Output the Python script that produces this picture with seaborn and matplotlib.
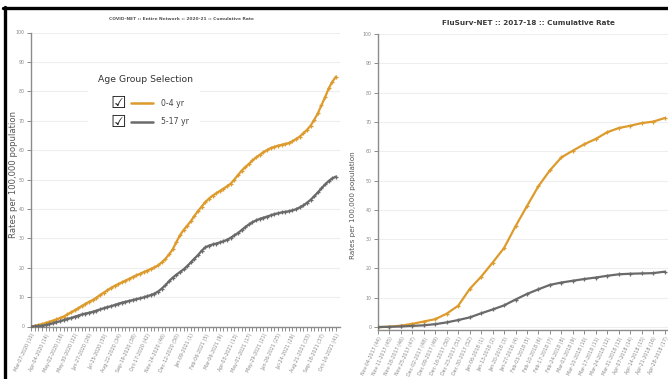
import numpy as np
import pandas as pd
import matplotlib
matplotlib.use("Agg")
import matplotlib.pyplot as plt
from matplotlib.lines import Line2D
from matplotlib.patches import Rectangle
import seaborn as sns

# ---------------------------------------------------------------------------
# Data
# ---------------------------------------------------------------------------
# COVID-NET 2020-21, weekly from Mar-07-2020 (wk 10) to Oct-16-2021 (wk 41)
covid_0_4 = [0.0, 0.2, 0.5, 0.8, 1.2, 1.6, 2.0, 2.4, 2.9, 3.4,
             4.1, 4.8, 5.5, 6.2, 7.0, 7.7, 8.4, 9.0, 9.8, 10.7,
             11.5, 12.3, 13.1, 13.8, 14.4, 15.0, 15.6, 16.2, 16.8, 17.4,
             17.9, 18.5, 19.0, 19.6, 20.1, 20.8, 21.8, 23.0, 24.5, 26.2,
             28.6, 31.0, 32.8, 34.3, 35.8, 37.6, 39.3, 40.8, 42.3, 43.5,
             44.5, 45.3, 46.1, 46.9, 47.7, 48.6, 50.0, 51.5, 53.0, 54.2,
             55.3, 56.5, 57.5, 58.4, 59.3, 60.0, 60.7, 61.1, 61.5, 61.8,
             62.1, 62.4, 63.0, 63.8, 64.6, 65.7, 66.9, 68.3, 70.3, 72.5,
             75.3, 78.0, 81.0, 83.3, 85.0]
covid_5_17 = [0.0, 0.1, 0.2, 0.3, 0.5, 0.8, 1.1, 1.5, 1.8, 2.2,
              2.6, 2.9, 3.3, 3.7, 4.1, 4.4, 4.7, 5.0, 5.4, 5.8,
              6.2, 6.6, 6.9, 7.3, 7.7, 8.1, 8.4, 8.7, 9.0, 9.3,
              9.6, 9.9, 10.3, 10.7, 11.2, 11.9, 12.9, 14.0, 15.4, 16.6,
              17.6, 18.5, 19.4, 20.5, 21.8, 23.1, 24.3, 25.8, 26.9, 27.5,
              27.9, 28.2, 28.6, 29.0, 29.5, 30.2, 31.0, 31.8, 32.8, 33.8,
              34.7, 35.5, 36.1, 36.6, 37.0, 37.4, 37.8, 38.2, 38.5, 38.8,
              39.0, 39.2, 39.5, 39.9, 40.5, 41.2, 42.1, 43.1, 44.3, 45.6,
              47.0, 48.3, 49.5, 50.4, 51.0]
covid_ticklabels = ["Mar-07-2020 (10)", "Apr-04-2020 (14)", "May-02-2020 (18)",
                    "May-30-2020 (22)", "Jun-27-2020 (26)", "Jul-25-2020 (30)",
                    "Aug-22-2020 (34)", "Sep-19-2020 (38)", "Oct-17-2020 (42)",
                    "Nov-14-2020 (46)", "Dec-12-2020 (50)", "Jan-09-2021 (1)",
                    "Feb-06-2021 (5)", "Mar-06-2021 (9)", "Apr-03-2021 (13)",
                    "May-01-2021 (17)", "May-29-2021 (21)", "Jun-26-2021 (25)",
                    "Jul-24-2021 (29)", "Aug-21-2021 (33)", "Sep-18-2021 (37)",
                    "Oct-16-2021 (41)"]

# FluSurv-NET 2017-18, weekly from Nov-04-2017 (wk 44) to Apr-28-2018 (wk 17)
flu_0_4 = [0.0, 0.1, 0.5, 1.1, 1.9, 2.7, 4.6, 7.3, 13.0, 17.2,
           22.0, 27.0, 34.4, 41.3, 48.1, 53.5, 57.9, 60.2, 62.4, 64.2,
           66.5, 67.9, 68.7, 69.6, 70.1, 71.3]
flu_5_17 = [0.0, 0.1, 0.2, 0.4, 0.6, 1.0, 1.6, 2.4, 3.3, 4.7,
            6.0, 7.4, 9.4, 11.3, 12.9, 14.4, 15.2, 15.8, 16.4, 16.9,
            17.5, 18.0, 18.2, 18.3, 18.4, 18.9]
flu_ticklabels = ["Nov-04-2017 (44)", "Nov-11-2017 (45)", "Nov-18-2017 (46)",
                  "Nov-25-2017 (47)", "Dec-02-2017 (48)", "Dec-09-2017 (49)",
                  "Dec-16-2017 (50)", "Dec-23-2017 (51)", "Dec-30-2017 (52)",
                  "Jan-06-2018 (1)", "Jan-13-2018 (2)", "Jan-20-2018 (3)",
                  "Jan-27-2018 (4)", "Feb-03-2018 (5)", "Feb-10-2018 (6)",
                  "Feb-17-2018 (7)", "Feb-24-2018 (8)", "Mar-03-2018 (9)",
                  "Mar-10-2018 (10)", "Mar-17-2018 (11)", "Mar-24-2018 (12)",
                  "Mar-31-2018 (13)", "Apr-07-2018 (14)", "Apr-14-2018 (15)",
                  "Apr-21-2018 (16)", "Apr-28-2018 (17)"]

age_groups = ["0-4 yr", "5-17 yr"]
colors = {"0-4 yr": "#dc9b2c", "5-17 yr": "#6a6a6a"}

# ---------------------------------------------------------------------------
# Figure setup (pixel helpers, top-left origin)
# ---------------------------------------------------------------------------
sns.set_theme(style="ticks")
plt.rcParams["font.family"] = ["DejaVu Sans"]

W, H = 668, 379
fig = plt.figure(figsize=(W / 100, H / 100), dpi=100)


def fx(x):
    return x / W


def fy(y):
    return 1 - y / H


def box(x0, y0, x1, y1):
    return [fx(x0), fy(y1), (x1 - x0) / W, (y1 - y0) / H]


ax1 = fig.add_axes(box(31, 32.5, 340, 326.5))
ax2 = fig.add_axes(box(378, 34, 668, 330))


def draw_panel(ax, s04, s517):
    df = pd.DataFrame({"week": np.arange(len(s04)), "0-4 yr": s04, "5-17 yr": s517})
    df = df.melt(id_vars="week", var_name="age", value_name="rate")
    for age in age_groups:
        sub = df[df["age"] == age]
        sns.lineplot(data=sub, x="week", y="rate", color=colors[age], ax=ax,
                     linewidth=1.6, marker="+", markersize=3.5,
                     markeredgewidth=0.9, markeredgecolor=colors[age],
                     legend=False, zorder=3)


def style_axes(ax):
    ax.set_xlabel("")
    ax.set_ylabel("")
    ax.set_yticks(range(0, 101, 10))
    ax.yaxis.grid(True, color="#eeeeee", linewidth=0.8)
    ax.set_axisbelow(True)
    for side in ["top", "right"]:
        ax.spines[side].set_visible(False)
    for side in ["left", "bottom"]:
        ax.spines[side].set_color("#8c8c8c")
        ax.spines[side].set_linewidth(1.0)
    ax.tick_params(axis="both", which="both", direction="out", color="#8c8c8c",
                   width=0.7, length=3, labelsize=3.4, labelcolor="#888888", pad=1.5)
    for lbl in ax.get_xticklabels():
        lbl.set_rotation(65)
        lbl.set_ha("right")
        lbl.set_va("top")
        lbl.set_rotation_mode("anchor")


# left panel: COVID-NET
draw_panel(ax1, covid_0_4, covid_5_17)
ax1.set_xlim(0, 85.1)
ax1.set_ylim(0, 100)
ax1.set_xticks(np.arange(len(covid_0_4)), minor=True)
ax1.set_xticks(np.arange(0, len(covid_0_4), 4))
ax1.set_xticklabels(covid_ticklabels)
style_axes(ax1)

# right panel: FluSurv-NET
draw_panel(ax2, flu_0_4, flu_5_17)
ax2.set_xlim(0, 25.3)
ax2.set_ylim(-1, 100)
ax2.set_xticks(np.arange(len(flu_0_4)))
ax2.set_xticklabels(flu_ticklabels)
style_axes(ax2)

# titles
fig.text(fx(181), fy(19), "COVID-NET :: Entire Network :: 2020-21 :: Cumulative Rate",
         ha="center", va="center", fontsize=3.2, fontweight="bold", color="#555555",
         family=["Liberation Sans Narrow", "DejaVu Sans"])
fig.text(fx(528), fy(23), "FluSurv-NET :: 2017-18 :: Cumulative Rate",
         ha="center", va="center", fontsize=5.2, fontweight="bold", color="#3a3a3a",
         family=["Liberation Sans Narrow", "DejaVu Sans"])

# y labels
fig.text(fx(14), fy(175), "Rates per 100,000 population", rotation=90,
         ha="center", va="center", fontsize=6.1, color="#555555")
fig.text(fx(353), fy(205), "Rates per 100,000 population", rotation=90,
         ha="center", va="center", fontsize=5.2, color="#555555")

# legend ("Age Group Selection") drawn by hand
fig.add_artist(Rectangle((fx(88), fy(134)), (200 - 88) / W, (134 - 70) / H,
                         transform=fig.transFigure, facecolor="white",
                         edgecolor="none", zorder=2))
fig.text(fx(98), fy(79), "Age Group Selection", ha="left", va="center",
         fontsize=6.7, color="#333333", zorder=3)
for row, age in zip([103, 122], age_groups):
    fig.text(fx(118), fy(row), "\u2611", ha="center", va="center",
             fontsize=12.5, color="#222222", zorder=3)
    fig.add_artist(Line2D([fx(131), fx(153)], [fy(row), fy(row)],
                          color=colors[age], linewidth=1.8, zorder=3))
    fig.text(fx(161), fy(row), age, ha="left", va="center",
             fontsize=5.6, color="#444444", zorder=3)

# black frame of the screenshot
fig.add_artist(Line2D([fx(3), 1], [fy(8), fy(8)], color="black", linewidth=2.4, zorder=5))
fig.add_artist(Line2D([fx(4.5), fx(4.5)], [fy(7), 0], color="black", linewidth=2.4, zorder=5))

fig.savefig("out.png", dpi=100)
